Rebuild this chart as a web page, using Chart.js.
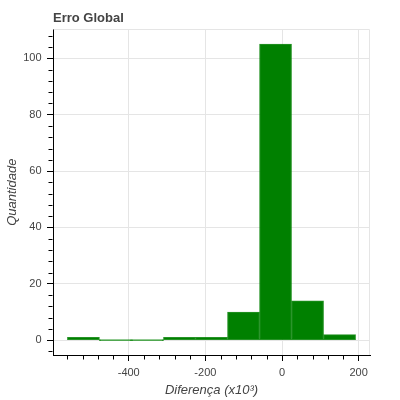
<!DOCTYPE html>
<html>
<head>
<meta charset="utf-8">
<script src="https://cdn.jsdelivr.net/npm/chart.js@4.4.1/dist/chart.umd.min.js"></script>
<style>
html,body{margin:0;padding:0;background:#fff;}
#wrap{width:400px;height:400px;}
</style>
</head>
<body>
<div id="wrap"><canvas id="c" width="400" height="400"></canvas></div>
<script>
// ---- data ----
const titleText = "Erro Global";
const xLabel = "Diferença (x10³)";
const yLabel = "Quantidade";
const binEdges = [-560, -476.4, -392.9, -309.3, -225.8, -142.2, -58.7, 24.9, 108.4, 192];
const counts = [1, 0, 0, 1, 1, 10, 105, 14, 2];
const xTicks = [-400, -200, 0, 200];
const yTicks = [0, 20, 40, 60, 80, 100];
const xMinorTicks = [-560, -520, -480, -440, -360, -320, -280, -240, -160, -120, -80, -40, 40, 80, 120, 160];
const yMinorTicks = [-4, 4, 8, 12, 16, 24, 28, 32, 36, 44, 48, 52, 56, 64, 68, 72, 76, 84, 88, 92, 96, 104, 108];
const xRange = [-597.6, 229.6];
const yRange = [-5.25, 110.25];

const points = counts.map((c, i) => ({ x: (binEdges[i] + binEdges[i + 1]) / 2, y: c }));

const FONT = "'Liberation Sans', Arial, Helvetica, sans-serif";
const TXT = '#444444';

const frameAndMinor = {
  id: 'frameAndMinor',
  beforeDatasetsDraw(chart) {
    const { ctx, chartArea: a } = chart;
    ctx.save();
    ctx.strokeStyle = '#e5e5e5';
    ctx.lineWidth = 1;
    ctx.beginPath();
    ctx.moveTo(Math.round(a.left) + 0.5, Math.round(a.top) + 0.5);
    ctx.lineTo(Math.round(a.right) - 0.5, Math.round(a.top) + 0.5);
    ctx.lineTo(Math.round(a.right) - 0.5, Math.round(a.bottom));
    ctx.stroke();
    ctx.restore();
  },
  afterDraw(chart) {
    const { ctx, chartArea: a, scales } = chart;
    ctx.save();
    ctx.strokeStyle = '#000';
    ctx.lineWidth = 1;
    ctx.beginPath();
    const by = Math.round(a.bottom) + 0.5;
    xMinorTicks.forEach(v => {
      const px = Math.round(scales.x.getPixelForValue(v)) + 0.5;
      ctx.moveTo(px, by);
      ctx.lineTo(px, by + 4);
    });
    const lx = Math.round(a.left) - 0.5;
    yMinorTicks.forEach(v => {
      const py = Math.round(scales.y.getPixelForValue(v)) + 0.5;
      ctx.moveTo(lx, py);
      ctx.lineTo(lx - 4, py);
    });
    ctx.stroke();
    ctx.restore();
  }
};

new Chart(document.getElementById('c'), {
  type: 'bar',
  data: {
    datasets: [{
      data: points,
      backgroundColor: ctx => (ctx.raw && ctx.raw.y === 0) ? '#1f951f' : '#008000',
      borderColor: 'rgba(0,128,0,0.85)',
      borderWidth: 1,
      borderSkipped: false,
      minBarLength: 1,
      barPercentage: 1,
      categoryPercentage: 1
    }]
  },
  plugins: [frameAndMinor],
  options: {
    responsive: false,
    animation: false,
    devicePixelRatio: 1,
    layout: { padding: { left: 0, right: 30, top: 0, bottom: 0 } },
    plugins: {
      legend: { display: false },
      tooltip: { enabled: false },
      title: {
        display: true,
        text: titleText,
        align: 'start',
        fullSize: false,
        color: TXT,
        font: { family: FONT, size: 13, weight: 'bold', lineHeight: 1.2 },
        padding: { top: 10.2, bottom: 3.6 }
      }
    },
    scales: {
      x: {
        type: 'linear',
        offset: false,
        min: xRange[0],
        max: xRange[1],
        afterBuildTicks: s => { s.ticks = xTicks.map(v => ({ value: v })); },
        afterFit: s => { s.height = 45; },
        grid: { offset: false, color: '#e5e5e5', lineWidth: 1, drawTicks: true, tickLength: 6, tickColor: '#000', tickWidth: 1 },
        border: { display: true, color: '#000', width: 1 },
        ticks: {
          color: TXT,
          font: { family: FONT, size: 11 },
          padding: 5,
          maxRotation: 0,
          autoSkip: false,
          callback: v => String(v)
        },
        title: {
          display: true,
          text: xLabel,
          color: TXT,
          font: { family: FONT, size: 13, style: 'italic', lineHeight: 1.2 },
          padding: { top: 0, bottom: 1.7 }
        }
      },
      y: {
        type: 'linear',
        min: yRange[0],
        max: yRange[1],
        afterBuildTicks: s => { s.ticks = yTicks.map(v => ({ value: v })); },
        afterFit: s => { s.width = 53; },
        grid: { offset: false, color: '#e5e5e5', lineWidth: 1, drawTicks: true, tickLength: 6, tickColor: '#000', tickWidth: 1 },
        border: { display: true, color: '#000', width: 1 },
        ticks: {
          color: TXT,
          font: { family: FONT, size: 11 },
          padding: 5.5,
          autoSkip: false,
          callback: v => String(v)
        },
        title: {
          display: true,
          text: yLabel,
          color: TXT,
          font: { family: FONT, size: 13, style: 'italic', lineHeight: 1.2 },
          padding: { top: 4.5, bottom: 0 }
        }
      }
    }
  }
});
</script>
</body>
</html>
